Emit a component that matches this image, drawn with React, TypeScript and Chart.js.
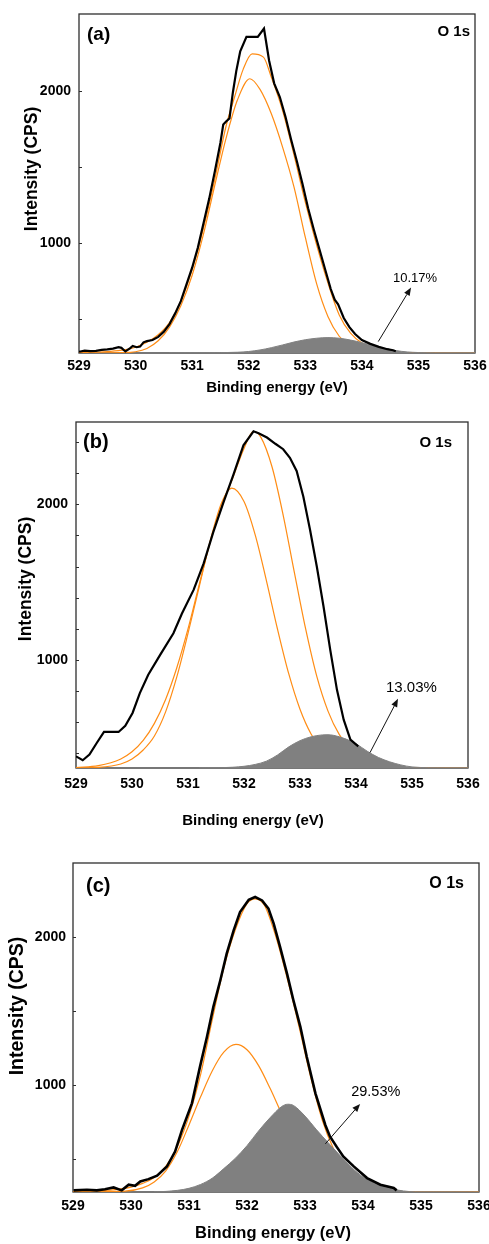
import { useEffect, useRef } from "react";
import { Chart, registerables } from "chart.js";
import type { Plugin } from "chart.js";

Chart.register(...registerables);

const FONT = '"Liberation Sans", Arial, Helvetica, sans-serif';
const ORANGE = "#FF8C14";
const GRAY = "#808080";
const PAGE_W = 489;

const ENERGY_TICKS = [529, 530, 531, 532, 533, 534, 535, 536];
const INTENSITY_LABELS = [1000, 2000];

// ---------- (a) ----------
const A_MEASURED_E = [529.0, 529.1, 529.2, 529.3, 529.4, 529.5, 529.6, 529.7, 529.75, 529.82, 529.9, 529.95, 530.02, 530.08, 530.14, 530.2, 530.3, 530.4, 530.5, 530.6, 530.7, 530.8, 530.9, 531.0, 531.1, 531.2, 531.3, 531.4, 531.5, 531.55, 531.6, 531.66, 531.72, 531.78, 531.85, 531.96, 532.05, 532.16, 532.27, 532.36, 532.45, 532.55, 532.65, 532.75, 532.85, 532.95, 533.05, 533.15, 533.25, 533.35, 533.45, 533.52, 533.58, 533.68, 533.78, 533.88, 534.0, 534.15, 534.3, 534.45, 534.55, 534.6];
const A_MEASURED_I = [288, 296, 292, 294, 300, 304, 309, 318, 314, 290, 310, 326, 318, 322, 350, 358, 365, 386, 420, 470, 540, 620, 730, 840, 970, 1130, 1290, 1470, 1660, 1780, 1800, 1820, 1990, 2130, 2260, 2355, 2355, 2355, 2410, 2200, 2050, 1960, 1830, 1680, 1540, 1390, 1230, 1090, 960, 830, 700, 630, 600, 510, 450, 405, 365, 340, 320, 305, 298, 292];
const A_ENVELOPE_E = [529.0, 529.5, 529.8, 530.0, 530.2, 530.4, 530.6, 530.8, 531.0, 531.2, 531.4, 531.6, 531.75, 531.9, 532.06, 532.26, 532.4, 532.6, 532.8, 533.0, 533.2, 533.4, 533.6, 533.8, 534.0, 534.2, 534.5, 535.0, 536.0];
const A_ENVELOPE_I = [282, 290, 300, 318, 350, 400, 480, 620, 830, 1100, 1420, 1770, 1960, 2140, 2243, 2222, 2090, 1870, 1580, 1270, 990, 740, 530, 410, 345, 310, 288, 281, 280];
const A_MAIN_E = [529.0, 529.8, 530.0, 530.2, 530.4, 530.6, 530.8, 531.0, 531.2, 531.4, 531.6, 531.8, 532.02, 532.2, 532.4, 532.6, 532.8, 533.0, 533.2, 533.4, 533.6, 533.8, 534.0, 534.2, 534.6, 536.0];
const A_MAIN_I = [280, 282, 288, 310, 360, 450, 590, 790, 1060, 1380, 1690, 1940, 2080, 2010, 1850, 1630, 1370, 1040, 735, 520, 390, 325, 295, 284, 280, 280];
const A_MINOR_E = [530.6, 531.5, 531.8, 532.0, 532.2, 532.4, 532.6, 532.8, 533.0, 533.2, 533.4, 533.6, 533.8, 534.0, 534.2, 534.4, 534.6, 534.8, 535.0, 535.3, 536.0];
const A_MINOR_I = [281, 282, 285, 290, 300, 315, 333, 352, 367, 377, 381, 377, 365, 348, 328, 310, 296, 287, 283, 281, 281];
const A_Y_TICKS = [500, 1000, 1500, 2000];
const A_SHARE = "10.17%";
const A_SHARE_AT: [number, number] = [534.94, 770];
const A_ARROW: [number, number][] = [[534.29, 355], [534.87, 710]];

// ---------- (b) ----------
const B_MEASURED_E = [529.0, 529.12, 529.24, 529.37, 529.5, 529.76, 529.88, 530.01, 530.14, 530.29, 530.5, 530.74, 530.89, 531.1, 531.28, 531.45, 531.63, 531.81, 531.99, 532.17, 532.26, 532.41, 532.56, 532.7, 532.82, 532.94, 533.06, 533.18, 533.3, 533.42, 533.54, 533.66, 533.78, 533.9, 534.04];
const B_MEASURED_I = [379, 354, 390, 465, 536, 536, 576, 658, 786, 904, 1030, 1171, 1296, 1450, 1620, 1820, 2010, 2190, 2380, 2470, 2458, 2430, 2390, 2355, 2300, 2215, 2049, 1835, 1600, 1343, 1064, 807, 615, 486, 443];
const B_ENVELOPE_E = [529.0, 529.4, 529.8, 530.0, 530.2, 530.4, 530.6, 530.8, 531.0, 531.2, 531.4, 531.6, 531.8, 532.0, 532.17, 532.3, 532.5, 532.7, 532.9, 533.1, 533.3, 533.5, 533.7, 533.9, 534.1, 534.3, 534.6, 535.0, 536.0];
const B_ENVELOPE_I = [307, 319, 362, 408, 481, 591, 745, 949, 1199, 1484, 1760, 1990, 2170, 2360, 2470, 2433, 2242, 1930, 1561, 1200, 893, 670, 520, 430, 370, 335, 312, 305, 304];
const B_MAIN_E = [529.0, 529.4, 529.8, 530.0, 530.2, 530.4, 530.6, 530.8, 531.0, 531.2, 531.4, 531.6, 531.78, 532.0, 532.2, 532.4, 532.6, 532.8, 533.0, 533.2, 533.4, 533.6, 533.8, 534.0, 534.4, 536.0];
const B_MAIN_I = [304, 308, 330, 362, 420, 510, 665, 890, 1170, 1470, 1770, 2010, 2105, 2019, 1804, 1510, 1195, 909, 682, 521, 419, 360, 329, 314, 305, 304];
const B_MINOR_E = [531.2, 531.6, 531.8, 532.0, 532.2, 532.4, 532.6, 532.8, 533.0, 533.2, 533.4, 533.5, 533.6, 533.8, 534.0, 534.2, 534.4, 534.6, 534.8, 535.0, 535.3, 535.6, 536.0];
const B_MINOR_I = [305, 306, 309, 315, 327, 348, 388, 440, 480, 505, 517, 518, 514, 493, 460, 412, 372, 344, 324, 311, 306, 305, 305];
const B_Y_TICKS = [400, 600, 800, 1000, 1200, 1400, 1600, 1800, 2000, 2200, 2400];
const B_SHARE = "13.03%";
const B_SHARE_AT: [number, number] = [534.99, 820];
const B_ARROW: [number, number][] = [[534.25, 403], [534.75, 749]];

// ---------- (c) ----------
const C_MEASURED_E = [529.01, 529.24, 529.41, 529.55, 529.7, 529.84, 529.96, 530.07, 530.16, 530.3, 530.45, 530.62, 530.76, 530.88, 531.05, 531.19, 531.31, 531.42, 531.54, 531.65, 531.77, 531.88, 532.03, 532.14, 532.26, 532.37, 532.46, 532.57, 532.69, 532.8, 532.92, 533.03, 533.18, 533.35, 533.43, 533.55, 533.66, 533.84, 534.07, 534.3, 534.53, 534.58];
const C_MEASURED_I = [288, 292, 288, 296, 308, 288, 326, 319, 348, 364, 387, 449, 550, 697, 876, 1124, 1326, 1528, 1708, 1888, 2045, 2169, 2252, 2270, 2247, 2191, 2090, 1933, 1753, 1573, 1393, 1191, 944, 730, 652, 580, 517, 450, 371, 326, 304, 288];
const C_ENVELOPE_E = [529.0, 529.4, 529.8, 530.0, 530.2, 530.4, 530.6, 530.8, 531.0, 531.2, 531.4, 531.6, 531.8, 532.0, 532.14, 532.3, 532.5, 532.7, 532.9, 533.1, 533.3, 533.5, 533.7, 533.9, 534.1, 534.4, 534.8, 536.0];
const C_ENVELOPE_I = [279, 284, 296, 310, 335, 375, 450, 585, 790, 1070, 1440, 1790, 2050, 2225, 2258, 2215, 2000, 1710, 1390, 1050, 760, 560, 420, 340, 300, 284, 278, 277];
const C_MAIN_E = [529.0, 529.9, 530.2, 530.4, 530.6, 530.8, 531.0, 531.2, 531.4, 531.6, 531.81, 532.0, 532.2, 532.4, 532.6, 532.8, 533.0, 533.3, 533.6, 534.0, 534.5, 536.0];
const C_MAIN_I = [277, 283, 305, 345, 420, 550, 730, 920, 1095, 1222, 1274, 1238, 1131, 976, 804, 644, 512, 380, 318, 285, 278, 277];
const C_MINOR_E = [530.4, 530.6, 530.8, 531.0, 531.2, 531.4, 531.6, 531.8, 532.0, 532.2, 532.4, 532.6, 532.7, 532.8, 533.0, 533.2, 533.4, 533.6, 533.8, 534.0, 534.2, 534.4, 534.6, 534.8, 535.0, 536.0];
const C_MINOR_I = [278, 281, 288, 302, 328, 370, 435, 505, 590, 690, 780, 855, 870, 862, 790, 697, 610, 525, 445, 378, 335, 308, 290, 280, 278, 277];
const C_Y_TICKS = [500, 1000, 1500, 2000];
const C_SHARE = "29.53%";
const C_SHARE_AT: [number, number] = [534.22, 953];
const C_ARROW: [number, number][] = [[533.35, 602], [533.95, 872]];

type Curve = { e: number[]; v: number[] };
type TextPos = { x: number; y: number; size: number };

interface PanelSpec {
  tag: string;
  share: string;
  shareAt: [number, number];
  shareSize: number;
  arrow: [number, number][];
  top: number;
  height: number;
  area: { left: number; top: number; right: number; bottom: number };
  yMin: number;
  yMax: number;
  yTicks: number[];
  measured: Curve;
  envelope: Curve;
  main: Curve;
  minor: Curve;
  measuredWidth: number;
  tickPadX: number;
  tickPadY: number;
  xTitle: TextPos;
  yTitle: TextPos;
  tagPos: TextPos;
  elemPos: TextPos;
}

const PANELS: PanelSpec[] = [
  {
    tag: "(a)",
    share: A_SHARE,
    shareAt: A_SHARE_AT,
    shareSize: 13,
    arrow: A_ARROW,
    top: 0,
    height: 400,
    area: { left: 79, top: 14, right: 475, bottom: 353 },
    yMin: 280,
    yMax: 2505,
    yTicks: A_Y_TICKS,
    measured: { e: A_MEASURED_E, v: A_MEASURED_I },
    envelope: { e: A_ENVELOPE_E, v: A_ENVELOPE_I },
    main: { e: A_MAIN_E, v: A_MAIN_I },
    minor: { e: A_MINOR_E, v: A_MINOR_I },
    measuredWidth: 2.2,
    tickPadX: 5,
    tickPadY: 8,
    xTitle: { x: 277, y: 388, size: 15 },
    yTitle: { x: 32, y: 169, size: 17.5 },
    tagPos: { x: 87, y: 35, size: 19 },
    elemPos: { x: 470, y: 32, size: 15 },
  },
  {
    tag: "(b)",
    share: B_SHARE,
    shareAt: B_SHARE_AT,
    shareSize: 15,
    arrow: B_ARROW,
    top: 410,
    height: 430,
    area: { left: 76, top: 12, right: 468, bottom: 358 },
    yMin: 304,
    yMax: 2530,
    yTicks: B_Y_TICKS,
    measured: { e: B_MEASURED_E, v: B_MEASURED_I },
    envelope: { e: B_ENVELOPE_E, v: B_ENVELOPE_I },
    main: { e: B_MAIN_E, v: B_MAIN_I },
    minor: { e: B_MINOR_E, v: B_MINOR_I },
    measuredWidth: 2.2,
    tickPadX: 8,
    tickPadY: 8,
    xTitle: { x: 253, y: 411, size: 15 },
    yTitle: { x: 26, y: 169, size: 17.5 },
    tagPos: { x: 83, y: 32, size: 20 },
    elemPos: { x: 452, y: 33, size: 15 },
  },
  {
    tag: "(c)",
    share: C_SHARE,
    shareAt: C_SHARE_AT,
    shareSize: 14.5,
    arrow: C_ARROW,
    top: 840,
    height: 404,
    area: { left: 73, top: 23, right: 479, bottom: 352 },
    yMin: 277,
    yMax: 2500,
    yTicks: C_Y_TICKS,
    measured: { e: C_MEASURED_E, v: C_MEASURED_I },
    envelope: { e: C_ENVELOPE_E, v: C_ENVELOPE_I },
    main: { e: C_MAIN_E, v: C_MAIN_I },
    minor: { e: C_MINOR_E, v: C_MINOR_I },
    measuredWidth: 2.6,
    tickPadX: 6,
    tickPadY: 7,
    xTitle: { x: 273, y: 393, size: 16.5 },
    yTitle: { x: 18, y: 166, size: 19.5 },
    tagPos: { x: 86, y: 46, size: 20 },
    elemPos: { x: 464, y: 44, size: 16 },
  },
];

const toPoints = (c: Curve) => c.e.map((x, k) => ({ x, y: c.v[k] }));

// Frame, inner y tick marks, captions and the percentage call-out.
function makeDecor(p: PanelSpec): Plugin<"line"> {
  return {
    id: "panelDecor",
    beforeDatasetsDraw(chart) {
      const { ctx, chartArea: a } = chart;
      const ys = chart.scales.y;
      ctx.save();
      ctx.strokeStyle = "#2e2e2e";
      ctx.lineWidth = 1.3;
      ctx.strokeRect(a.left, a.top, a.right - a.left, a.bottom - a.top);
      ctx.lineWidth = 1;
      p.yTicks.forEach((v) => {
        const py = Math.round(ys.getPixelForValue(v)) + 0.5;
        ctx.beginPath();
        ctx.moveTo(a.left, py);
        ctx.lineTo(a.left + 3, py);
        ctx.stroke();
      });
      ctx.restore();
    },
    afterDraw(chart) {
      const { ctx } = chart;
      const xs = chart.scales.x;
      const ys = chart.scales.y;
      ctx.save();
      ctx.fillStyle = "#000";
      ctx.textBaseline = "middle";

      ctx.textAlign = "center";
      ctx.font = `bold ${p.xTitle.size}px ${FONT}`;
      ctx.fillText("Binding energy (eV)", p.xTitle.x, p.xTitle.y);

      ctx.save();
      ctx.translate(p.yTitle.x, p.yTitle.y);
      ctx.rotate(-Math.PI / 2);
      ctx.font = `bold ${p.yTitle.size}px ${FONT}`;
      ctx.fillText("Intensity (CPS)", 0, 0);
      ctx.restore();

      ctx.textAlign = "left";
      ctx.font = `bold ${p.tagPos.size}px ${FONT}`;
      ctx.fillText(p.tag, p.tagPos.x, p.tagPos.y);

      ctx.textAlign = "right";
      ctx.font = `bold ${p.elemPos.size}px ${FONT}`;
      ctx.fillText("O 1s", p.elemPos.x, p.elemPos.y);

      ctx.textAlign = "center";
      ctx.font = `${p.shareSize}px ${FONT}`;
      ctx.fillText(p.share, xs.getPixelForValue(p.shareAt[0]), ys.getPixelForValue(p.shareAt[1]));

      const [from, to] = p.arrow;
      const x0 = xs.getPixelForValue(from[0]);
      const y0 = ys.getPixelForValue(from[1]);
      const x1 = xs.getPixelForValue(to[0]);
      const y1 = ys.getPixelForValue(to[1]);
      const ang = Math.atan2(y1 - y0, x1 - x0);
      const headL = 8;
      const headW = 3.2;
      const bx = x1 - headL * Math.cos(ang);
      const by = y1 - headL * Math.sin(ang);
      ctx.strokeStyle = "#111";
      ctx.fillStyle = "#111";
      ctx.lineWidth = 1;
      ctx.beginPath();
      ctx.moveTo(x0, y0);
      ctx.lineTo(bx, by);
      ctx.stroke();
      ctx.beginPath();
      ctx.moveTo(x1, y1);
      ctx.lineTo(bx + headW * Math.sin(ang), by - headW * Math.cos(ang));
      ctx.lineTo(bx - headW * Math.sin(ang), by + headW * Math.cos(ang));
      ctx.closePath();
      ctx.fill();
      ctx.restore();
    },
  };
}

function SpectrumPanel({ spec }: { spec: PanelSpec }) {
  const ref = useRef<HTMLCanvasElement>(null);

  useEffect(() => {
    const canvas = ref.current;
    if (!canvas) return;
    const p = spec;
    const tickFont = { family: FONT, size: 14, weight: "bold" as const };
    const chart = new Chart(canvas, {
      type: "line",
      data: {
        datasets: [
          {
            label: "measured",
            data: toPoints(p.measured),
            borderColor: "#000",
            borderWidth: p.measuredWidth,
            pointRadius: 0,
            tension: 0,
            fill: false,
            order: 0,
          },
          {
            label: "minor component",
            data: toPoints(p.minor),
            borderColor: GRAY,
            backgroundColor: GRAY,
            borderWidth: 1,
            pointRadius: 0,
            cubicInterpolationMode: "monotone",
            fill: "start",
            order: 1,
          },
          {
            label: "envelope",
            data: toPoints(p.envelope),
            borderColor: ORANGE,
            borderWidth: 1.2,
            pointRadius: 0,
            cubicInterpolationMode: "monotone",
            fill: false,
            order: 2,
          },
          {
            label: "main component",
            data: toPoints(p.main),
            borderColor: ORANGE,
            borderWidth: 1.2,
            pointRadius: 0,
            cubicInterpolationMode: "monotone",
            fill: false,
            order: 3,
          },
        ],
      },
      options: {
        responsive: false,
        animation: false,
        devicePixelRatio: 1,
        events: [],
        layout: {
          padding: { left: 0, top: p.area.top, right: PAGE_W - p.area.right, bottom: 0 },
        },
        plugins: {
          legend: { display: false },
          tooltip: { enabled: false },
        },
        scales: {
          x: {
            type: "linear",
            min: 529,
            max: 536,
            grid: { display: false, drawTicks: false },
            border: { display: false },
            ticks: {
              font: tickFont,
              color: "#000",
              padding: p.tickPadX,
              maxRotation: 0,
              minRotation: 0,
              autoSkip: false,
              callback: (v: any) => String(v),
            },
            afterBuildTicks: (s: any) => {
              s.ticks = ENERGY_TICKS.map((value) => ({ value }));
            },
            afterFit: (s: any) => {
              s.height = p.height - p.area.bottom;
              s.paddingLeft = 0;
              s.paddingRight = 0;
            },
          },
          y: {
            type: "linear",
            min: p.yMin,
            max: p.yMax,
            grid: { display: false, drawTicks: false },
            border: { display: false },
            ticks: {
              font: tickFont,
              color: "#000",
              padding: p.tickPadY,
              autoSkip: false,
              callback: (v: any) => String(v),
            },
            afterBuildTicks: (s: any) => {
              s.ticks = INTENSITY_LABELS.map((value) => ({ value }));
            },
            afterFit: (s: any) => {
              s.width = p.area.left;
              s.paddingTop = 0;
              s.paddingBottom = 0;
            },
          },
        },
      },
      plugins: [makeDecor(p)],
    });
    return () => chart.destroy();
  }, [spec]);

  return (
    <canvas
      ref={ref}
      width={PAGE_W}
      height={spec.height}
      style={{ position: "absolute", left: 0, top: spec.top, width: PAGE_W, height: spec.height }}
    />
  );
}

export default function App() {
  return (
    <div
      style={{
        position: "absolute",
        left: 0,
        top: 0,
        width: PAGE_W,
        height: 1244,
        background: "#fff",
        overflow: "hidden",
      }}
    >
      {PANELS.map((spec) => (
        <SpectrumPanel key={spec.tag} spec={spec} />
      ))}
    </div>
  );
}
